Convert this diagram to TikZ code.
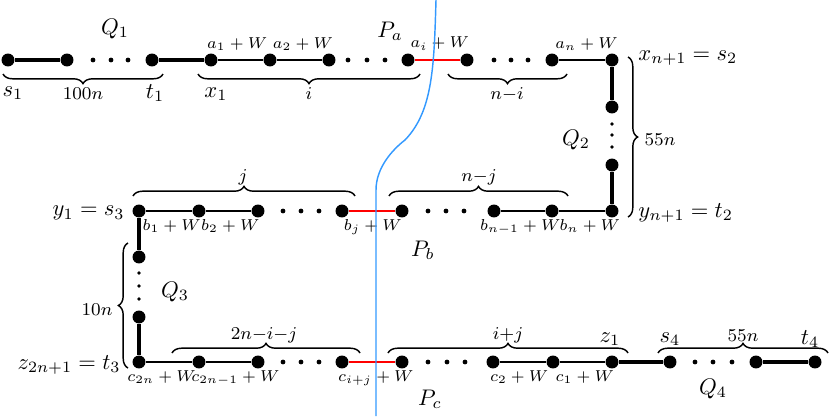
\documentclass[tikz,border=0pt]{standalone}
\usepackage{amsmath, amssymb}
\usepackage{tikz}
\usetikzlibrary{decorations.pathreplacing}

\definecolor{cutblue}{RGB}{51,153,255}
\tikzset{
    vert/.style={circle,fill,inner sep=0pt,minimum size=5.4pt},
    qedge/.style={line width=2pt},
    pedge/.style={line width=0.6pt},
    cedge/.style={line width=0.7pt,red},
    brc/.style={decorate,decoration={brace,amplitude=4pt},line width=0.6pt},
    wlab/.style={font=\scriptsize,text=black,inner sep=2pt,scale=0.94,transform shape},
    blab/.style={font=\footnotesize,inner sep=0pt,scale=0.94,transform shape},
    txt/.style={inner sep=0pt,scale=0.94,transform shape}
}

\begin{document}
\begin{tikzpicture}[x=4.1667pt,y=4.1667pt]
    \pgfmathsetmacro{\ya}{35.6}
    \pgfmathsetmacro{\yb}{20.5}
    \pgfmathsetmacro{\yc}{5.4}
    \useasboundingbox (0,0) rectangle (83,41.6);

    % Draw the vertices
    \node [vert] (s1) at (0.8,\ya) {};
    \node [vert] (u1) at (6.7,\ya) {};
    \node [vert] (t1) at (15.2,\ya) {};
    \node [vert] (x1) at (21.1,\ya) {};
    \node [vert] (x2) at (27.0,\ya) {};
    \node [vert] (x3) at (32.9,\ya) {};
    \node [vert] (xi) at (40.8,\ya) {};
    \node [vert] (xii) at (46.7,\ya) {};
    \node [vert] (xn) at (55.2,\ya) {};
    \node [vert] (xnn) at (61.2,\ya) {};
    \node [vert] (u2) at (61.2,30.9) {};
    \node [vert] (v2) at (61.2,25.1) {};
    \node [vert] (ynn) at (61.2,\yb) {};
    \node [vert] (yn) at (55.2,\yb) {};
    \node [vert] (ynm) at (49.4,\yb) {};
    \node [vert] (yjj) at (40.2,\yb) {};
    \node [vert] (yj) at (34.2,\yb) {};
    \node [vert] (y3) at (25.8,\yb) {};
    \node [vert] (y2) at (19.9,\yb) {};
    \node [vert] (y1) at (13.9,\yb) {};
    \node [vert] (u3) at (13.9,15.9) {};
    \node [vert] (v3) at (13.9,9.9) {};
    \node [vert] (zt) at (13.9,\yc) {};
    \node [vert] (zs) at (19.9,\yc) {};
    \node [vert] (zr) at (25.8,\yc) {};
    \node [vert] (zk) at (34.2,\yc) {};
    \node [vert] (zl) at (40.2,\yc) {};
    \node [vert] (z3) at (49.3,\yc) {};
    \node [vert] (z2) at (55.3,\yc) {};
    \node [vert] (z1) at (61.2,\yc) {};
    \node [vert] (s4) at (67.0,\yc) {};
    \node [vert] (v4) at (75.6,\yc) {};
    \node [vert] (t4) at (81.5,\yc) {};

    % Draw the dots
    \foreach \x in {9.3,11.1,12.8,34.8,36.7,38.5,49.4,51.1,52.8}
        \fill (\x,\ya) circle (1pt);
    \foreach \x in {28.3,30.1,31.9,42.8,44.6,46.4}
        \fill (\x,\yb) circle (1pt);
    \foreach \x in {28.3,30.1,31.9,42.8,44.7,46.5,69.5,71.3,73.2}
        \fill (\x,\yc) circle (1pt);
    \foreach \y in {29.2,28.1,26.9}
        \fill (61.2,\y) circle (0.8pt);
    \foreach \y in {14.3,13.0,11.7}
        \fill (13.9,\y) circle (0.8pt);

    % Draw the paths
    \draw [qedge] (s1) -- (u1);
    \draw [qedge] (t1) -- (x1);
    \draw [pedge] (x1) -- node [wlab,above=2pt,xshift=-1.5pt] (la1) {$a_1+W$} (x2);
    \draw [pedge] (x2) -- node [wlab,above=2pt,xshift=1.5pt] (la2) {$a_2+W$} (x3);
    \draw [cedge] (xi) -- node [wlab,above=2pt,xshift=1pt] (lai) {$a_i+W$} (xii);
    \draw [pedge] (xn) -- node [wlab,above=2pt,xshift=2pt] (lan) {$a_n+W$} (xnn);
    \draw [qedge] (xnn) -- (u2);
    \draw [qedge] (v2) -- (ynn);
    \draw [pedge] (yn) -- node [wlab,below=1.5pt,xshift=3.5pt] (lbn) {$b_n+W$} (ynn);
    \draw [pedge] (ynm) -- node [wlab,below=1.5pt,xshift=-1.2pt] (lbm) {$b_{n-1}+W$} (yn);
    \draw [cedge] (yj) -- node [wlab,below=1.5pt,xshift=0.4pt] (lbj) {$b_j+W$} (yjj);
    \draw [pedge] (y2) -- node [wlab,below=1.5pt,xshift=0.8pt] (lb2) {$b_2+W$} (y3);
    \draw [pedge] (y1) -- node [wlab,below=1.5pt,xshift=1.2pt] (lb1) {$b_1+W$} (y2);
    \draw [qedge] (y1) -- (u3);
    \draw [qedge] (v3) -- (zt);
    \draw [pedge] (zt) -- node [wlab,below=1.5pt,xshift=-3.3pt] (lc1) {$c_{2n}+W$} (zs);
    \draw [pedge] (zs) -- node [wlab,below=1.5pt,xshift=3.1pt] (lc2) {$c_{2n-1}+W$} (zr);
    \draw [cedge] (zk) -- node [wlab,below=1.5pt,xshift=1.7pt] (lcij) {$c_{i+j}+W$} (zl);
    \draw [pedge] (z3) -- node [wlab,below=1.5pt,xshift=-1.7pt] (lc3) {$c_2+W$} (z2);
    \draw [pedge] (z2) -- node [wlab,below=1.5pt,xshift=1pt] (lc4) {$c_1+W$} (z1);
    \draw [qedge] (z1) -- (s4);
    \draw [qedge] (v4) -- (t4);

    % Draw the braces
    \draw [brc] (16.3,34.2) -- (0.3,34.2);
    \draw [brc] (42.0,34.2) -- (19.8,34.2);
    \draw [brc] (56.7,34.2) -- (44.8,34.2);
    \draw [brc] (62.8,35.9) -- (62.8,19.9);
    \draw [brc] (13.3,22.0) -- (35.5,22.0);
    \draw [brc] (38.9,22.0) -- (56.8,22.0);
    \draw [brc] (12.8,4.8) -- (12.8,17.3);
    \draw [brc] (17.2,6.3) -- (36.0,6.3);
    \draw [brc] (38.8,6.3) -- (62.8,6.3);
    \draw [brc] (65.8,6.3) -- (82.8,6.3);

    % Draw the texts
    \node [txt] (tq1) at (11.5,38.7) {$Q_1$};
    \node [txt] (tpa) at (39.0,38.5) {$P_a$};
    \node [txt] (ts1) at (1.3,32.3) {$s_1$};
    \node [blab] (b100) at (8.3,32.2) {$100n$};
    \node [txt] (tt1) at (15.5,32.3) {$t_1$};
    \node [txt] (tx1) at (21.6,32.2) {$x_1$};
    \node [blab] (bi) at (30.9,32.2) {$i$};
    \node [blab] (bni) at (50.7,32.2) {$n{-}i$};
    \node [txt,anchor=west] (ts2) at (63.8,35.8) {$x_{n+1}=s_2$};
    \node [txt] (tq2) at (57.6,27.6) {$Q_2$};
    \node [blab] (b55a) at (66.0,27.6) {$55n$};
    \node [txt,anchor=west] (tt2) at (63.8,20.3) {$y_{n+1}=t_2$};
    \node [blab] (bj) at (24.3,23.9) {$j$};
    \node [blab] (bnj) at (47.9,23.9) {$n{-}j$};
    \node [txt,anchor=east] (ts3) at (12.5,20.3) {$y_1=s_3$};
    \node [txt] (tpb) at (42.3,16.6) {$P_b$};
    \node [blab] (b10) at (9.7,10.6) {$10n$};
    \node [txt] (tq3) at (17.5,12.4) {$Q_3$};
    \node [txt,anchor=east] (tt3) at (12.1,5.1) {$z_{2n+1}=t_3$};
    \node [blab] (bij2) at (26.4,8.1) {$2n{-}i{-}j$};
    \node [txt] (tpc) at (43.0,1.7) {$P_c$};
    \node [blab] (bij) at (50.8,8.1) {$i{+}j$};
    \node [txt] (tz1) at (61.0,7.7) {$z_1$};
    \node [txt] (ts4) at (67.0,7.7) {$s_4$};
    \node [blab] (b55b) at (74.3,8.0) {$55n$};
    \node [txt] (tt4) at (81.0,7.7) {$t_4$};
    \node [txt] (tq4) at (71.3,2.7) {$Q_4$};

    % Draw the cut
    \draw [cutblue,line width=0.6pt] (43.6,41.6) .. controls (43.4,35) and (43.3,30.5) .. (40.5,27.6)
        .. controls (39.2,26.6) and (37.6,24.8) .. (37.6,22.6) -- (37.6,0);

\end{tikzpicture}
\end{document}
